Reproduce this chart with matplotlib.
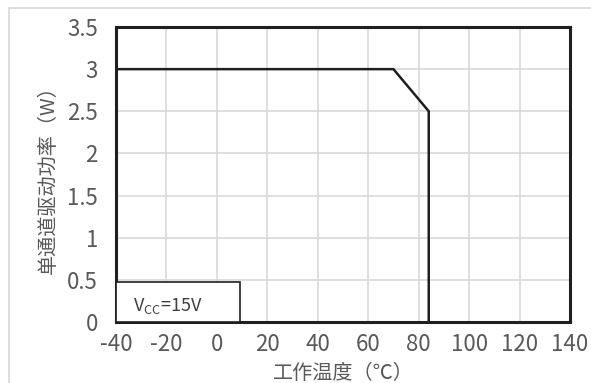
import matplotlib
matplotlib.use('Agg')
from matplotlib import pyplot as plt
from matplotlib.patches import Rectangle

plt.rcParams['font.family'] = ['Noto Sans CJK SC', 'DejaVu Sans']
plt.rcParams['axes.unicode_minus'] = False

# Derating curve
temp = [-40, 70, 84, 84]
power = [3, 3, 2.5, 0]

x_ticks = [-40, -20, 0, 20, 40, 60, 80, 100, 120, 140]
y_ticks = [0, 0.5, 1, 1.5, 2, 2.5, 3, 3.5]
y_labels = ['0', '0.5', '1', '1.5', '2', '2.5', '3', '3.5']

W, H = 591, 383
fig = plt.figure(figsize=(W / 100, H / 100), dpi=100)
ax = fig.add_axes([116 / W, 1 - 322 / H, (570 - 116) / W, (322 - 27) / H])

# outer frame of the chart area
fig.patches.append(Rectangle((9 / W, -0.1), 1.2, 1 - 8 / H + 0.1,
                             transform=fig.transFigure, fill=False,
                             edgecolor='#d9d9d9', linewidth=1.2))

ax.plot(temp, power, color='#1f1f1f', linewidth=1.8, solid_joinstyle='miter')

ax.set_xlim(-40, 140)
ax.set_ylim(0, 3.5)
ax.set_xticks(x_ticks)
ax.set_yticks(y_ticks)
ax.set_yticklabels(y_labels)
ax.grid(True, color='#d9d9d9', linewidth=1.2)
ax.set_axisbelow(True)
for s in ax.spines.values():
    s.set_linewidth(2.2)
    s.set_color('#1f1f1f')
ax.tick_params(length=0, labelsize=16, labelcolor='#595959')
ax.tick_params(axis='x', pad=8)
ax.tick_params(axis='y', pad=13)

ax.set_xlabel('工作温度（℃）', fontsize=14.5, color='#595959', labelpad=5)
ax.set_ylabel('单通道驱动功率（W）', fontsize=14.5, color='#595959', labelpad=6)

# condition box
ax.add_patch(Rectangle((0, 0), (240 - 116) / 454, 0.135, transform=ax.transAxes,
                       fill=True, facecolor='white', edgecolor='#1f1f1f',
                       linewidth=1.2, zorder=3))
ax.text(0.037, 0.055, 'V$_{\\mathregular{CC}}$=15V', transform=ax.transAxes,
        fontsize=13, color='#404040', va='center', zorder=4)

fig.savefig('out.png', dpi=100)
